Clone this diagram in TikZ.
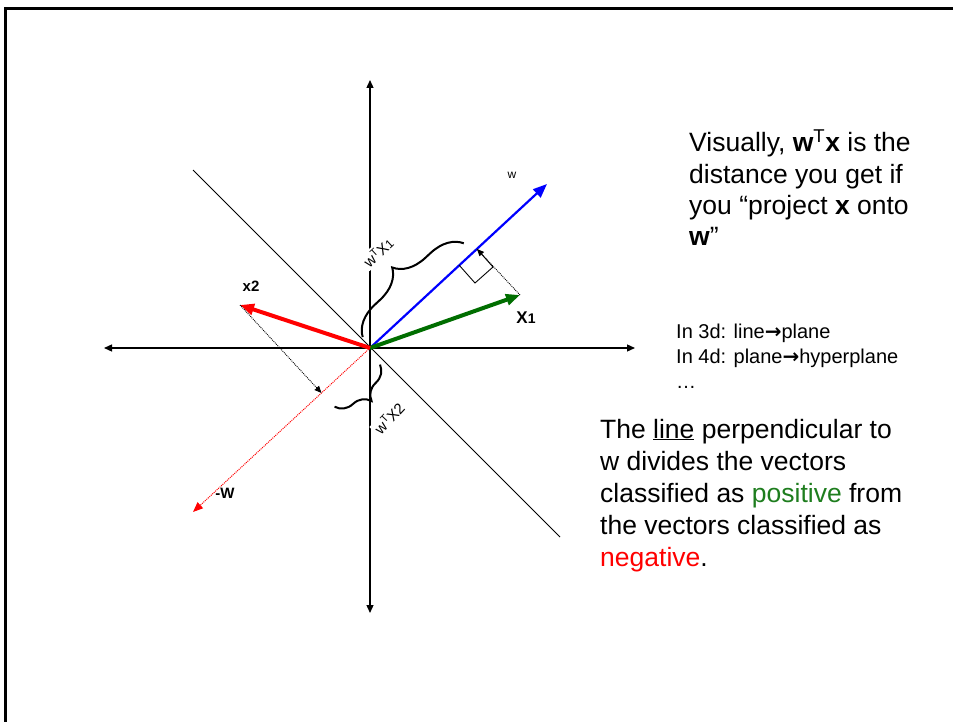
\documentclass[tikz,border=0pt]{standalone}
\usepackage{fontspec}
\setmainfont{Liberation Sans}
\newfontfamily\arrowfont{DejaVu Sans}
\usepackage{xcolor}
\usetikzlibrary{arrows.meta,decorations.pathreplacing}
\definecolor{posgreen}{RGB}{30,125,30}
\definecolor{vecgreen}{RGB}{0,110,0}
\newcommand{\toarrow}{{\arrowfont\bfseries →}}

\begin{document}
\begin{tikzpicture}[x=1pt, y=-1pt,
      axis/.style={line width=1.3pt, {Triangle[length=8pt,width=7pt]}-{Triangle[length=8pt,width=7pt]}},
      vec/.style={-{Triangle[length=14pt,width=11pt]}},
      proj/.style={densely dotted, line width=0.9pt, -{Triangle[length=7pt,width=6pt]}},
      brc/.style={decorate, decoration={brace, amplitude=#1}, line width=2pt},
      lbl/.style={inner sep=0pt, font=\bfseries\fontsize{15}{18}\selectfont},
      dist/.style={fill=white, inner sep=2pt, font=\fontsize{15}{18}\selectfont},
      para/.style={inner sep=0pt, anchor=base west, align=left,
                   font=\fontsize{26.5}{31}\selectfont}]
    \useasboundingbox (0,0) rectangle (953,722);
    % slide frame
    \draw[line width=3pt] (5,722) -- (5,8.5) -- (953,8.5);

    % axes and the separating line
    \coordinate (O) at (370,348);
    \coordinate (up) at (370,80);
    \coordinate (down) at (370,613);
    \coordinate (left) at (104,348);
    \coordinate (right) at (635,348);
    \coordinate (sepa) at (193,170);
    \coordinate (sepb) at (560,537);
    \draw[axis] (down) -- (up);
    \draw[axis] (left) -- (right);
    \draw[line width=0.9pt] (sepa) -- (sepb);

    % projection lengths (white boxes over the axis)
    \node[dist, rotate=43] (d1) at (378,252) {w\textsuperscript{T}X{\fontsize{12}{14}\selectfont 1}};
    \node[dist, rotate=47] (d2) at (389,418) {w\textsuperscript{T}X2};

    % vectors
    \coordinate (w) at (547,184);
    \coordinate (mw) at (193,512);
    \coordinate (x1) at (520,295);
    \coordinate (x2) at (240,305);
    \coordinate (p1) at (477,249);
    \coordinate (p2) at (321.5,393);
    \draw[red, densely dotted, line width=1pt, -{Triangle[length=10pt,width=8pt]}] (O) -- (mw);
    \draw[vec, blue, line width=2.2pt] (O) -- (w);
    \draw[vec, vecgreen, line width=4pt] (O) -- (x1);
    \draw[vec, red, line width=4pt] (O) -- (x2);

    % projections
    \draw[proj] (x1) -- (p1);
    \draw[proj] (x2) -- (p2);
    \coordinate (sq1) at (459,265);
    \coordinate (sq2) at (475,283);
    \coordinate (sq3) at (493,267);
    \draw[line width=0.9pt] (sq1) -- (sq2) -- (sq3) -- (p1);

    % braces
    \coordinate (b1s) at (362.7,337.1);
    \coordinate (b1e) at (463.8,243.3);
    \coordinate (b2s) at (380,364.6);
    \coordinate (b2e) at (334.5,406.8);
    \draw[brc=31] (b1s) -- (b1e);
    \draw[brc=21] (b2s) -- (b2e);

    % labels
    \node[lbl, font=\fontsize{12}{14}\selectfont] (wl) at (512,175) {w};
    \node[lbl] (x2l) at (251,286) {x2};
    \node[lbl] (x1l) at (526,318) {{\fontsize{17}{18}\selectfont X}{\fontsize{14}{16}\selectfont 1}};
    \node[lbl] (mwl) at (225,493) {-W};

    % text (base anchor sits on the last line)
    \node[para] (visual) at (689,245) {Visually, \textbf{w}\textsuperscript{T}\textbf{x} is the\\
      distance you get if\\ you “project \textbf{x} onto\\ \textbf{w}”};
    \node[para, font=\fontsize{20}{25}\selectfont] (dims) at (676,388)
      {In 3d: line\toarrow plane\\ In 4d: plane\toarrow hyperplane\\ …};
    \node[para, font=\fontsize{26.5}{32}\selectfont] (divide) at (600,566)
      {The \underline{line} perpendicular to\\
      w divides the vectors\\ classified as \textcolor{posgreen}{positive} from\\
      the vectors classified as\\ \textcolor{red}{negative}.};
  \end{tikzpicture}
\end{document}
